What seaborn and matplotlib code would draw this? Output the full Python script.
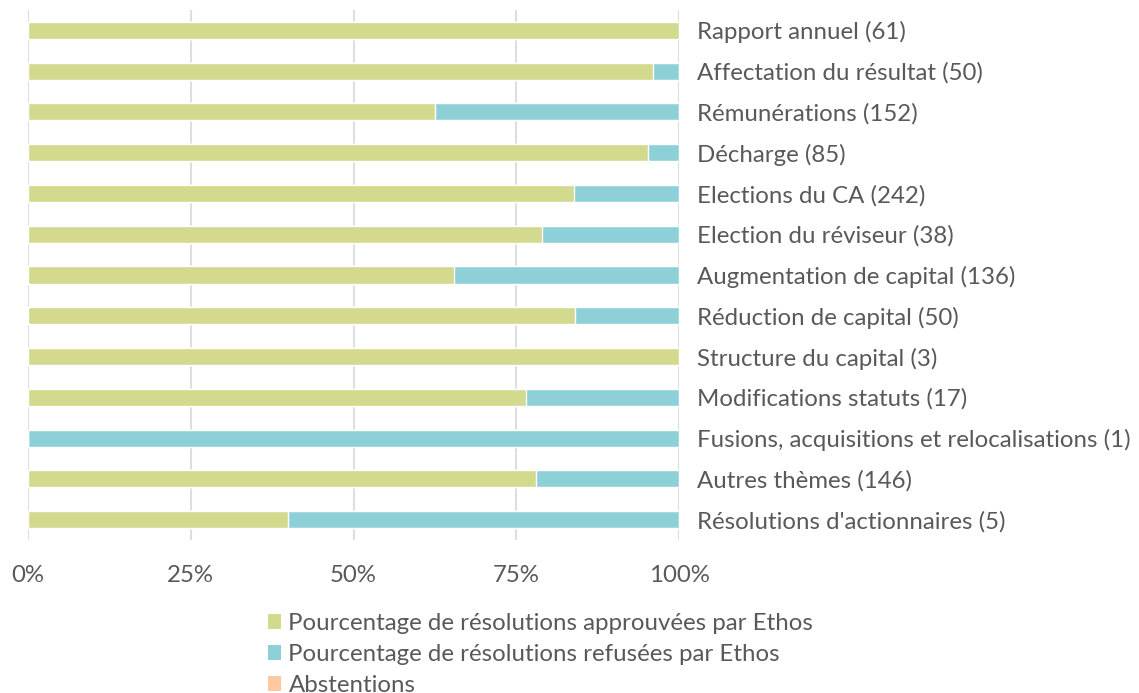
"""
Résolutions approuvées / refusées par thème
"""
import numpy as np
import pandas as pd
import matplotlib
matplotlib.use("Agg")
import matplotlib.pyplot as plt
from matplotlib.patches import Patch
import seaborn as sns

categories = [
    "Rapport annuel (61)",
    "Affectation du résultat (50)",
    "Rémunérations (152)",
    "Décharge (85)",
    "Elections du CA (242)",
    "Election du réviseur (38)",
    "Augmentation de capital (136)",
    "Réduction de capital (50)",
    "Structure du capital (3)",
    "Modifications statuts (17)",
    "Fusions, acquisitions et relocalisations (1)",
    "Autres thèmes (146)",
    "Résolutions d'actionnaires (5)",
]
approuvees = [100.0, 96.0, 62.5, 95.3, 83.9, 78.9, 65.4, 84.0, 100.0, 76.5, 0.0, 78.1, 40.0]
refusees = [0.0, 4.0, 37.5, 4.7, 16.1, 21.1, 34.6, 16.0, 0.0, 23.5, 100.0, 21.9, 60.0]
abstentions = [0.0] * 13

series_names = [
    "Pourcentage de résolutions approuvées par Ethos",
    "Pourcentage de résolutions refusées par Ethos",
    "Abstentions",
]
colors = ["#D3DA8E", "#8ED0D8", "#FCC9A0"]
text_color = "#595959"

sns.set_theme(style="white")
plt.rcParams["font.family"] = ["Lato", "DejaVu Sans"]

df = pd.DataFrame({
    "theme": categories,
    "app": approuvees,
    "ref": refusees,
    "abs": abstentions,
})
df["c1"] = df["app"]
df["c2"] = df["app"] + df["ref"]
df["c3"] = df["c2"] + df["abs"]

fig = plt.figure(figsize=(11.39, 6.93), dpi=100)
ax = fig.add_axes([28 / 1139, 1 - 540 / 693, (679 - 28) / 1139, 530 / 693])

# barres empilées : on dessine les cumuls du plus grand au plus petit
for col, color in zip(["c3", "c2", "c1"], colors[::-1]):
    sns.barplot(data=df, x=col, y="theme", color=color, orient="h",
                width=0.42, ax=ax, saturation=1, zorder=2)

ax.set_xlim(0, 100)
ax.set_ylim(12.5, -0.5)
ax.set_xticks([0, 25, 50, 75, 100])
ax.set_xticklabels(["0%", "25%", "50%", "75%", "100%"])
ax.xaxis.grid(True, color="#DEDEDE", linewidth=1.5, zorder=0)
ax.set_axisbelow(True)
ax.set_xlabel("")
ax.set_ylabel("")
for s in ax.spines.values():
    s.set_visible(False)

ax.yaxis.tick_right()
ax.tick_params(axis="y", length=0, pad=13, labelsize=17.3, labelcolor=text_color)
ax.tick_params(axis="x", length=0, pad=18, labelsize=17.3, labelcolor=text_color)

handles = [Patch(facecolor=c, edgecolor="none") for c in colors]
fig.legend(handles, series_names, loc="upper left",
           bbox_to_anchor=(268 / 1139, 1 - 613 / 693), frameon=False,
           fontsize=17.3, labelcolor=text_color, handlelength=0.55,
           handleheight=0.55, handletextpad=0.3, labelspacing=0.42,
           borderaxespad=0, borderpad=0)

plt.savefig("out.png", dpi=100)
